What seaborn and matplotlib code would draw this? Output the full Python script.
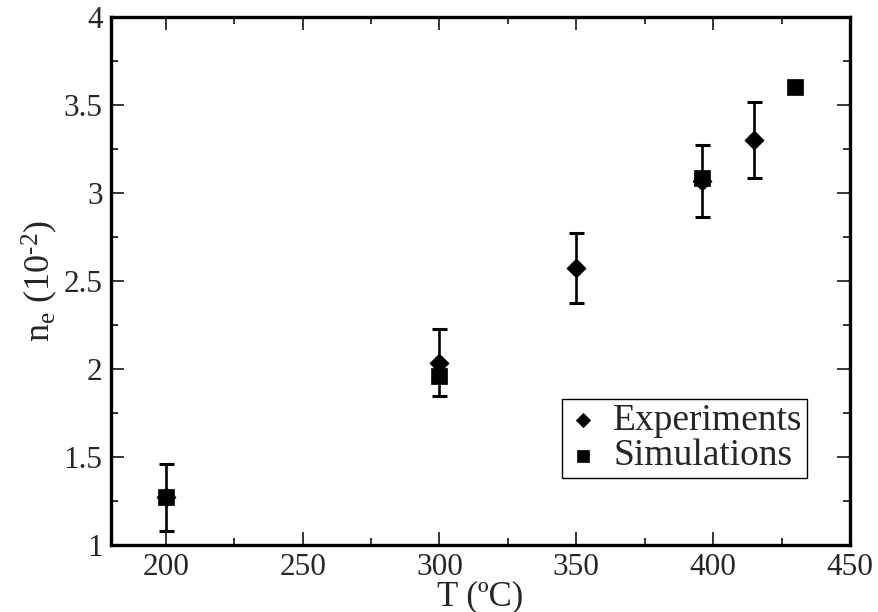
import matplotlib
matplotlib.use("Agg")
import matplotlib.pyplot as plt
from matplotlib.ticker import MultipleLocator, FuncFormatter
import seaborn as sns
import pandas as pd

# Measured electron density vs temperature
exp_T = [200, 300, 350, 396, 415]
exp_ne = [1.27, 2.035, 2.575, 3.07, 3.30]
exp_err = [0.19, 0.19, 0.20, 0.205, 0.215]

# Simulated electron density
sim_T = [200, 300, 396, 430]
sim_ne = [1.275, 1.96, 3.085, 3.605]

series_names = ["Experiments", "Simulations"]

sns.set_theme(style="ticks")
plt.rcParams["font.family"] = ["Liberation Serif", "DejaVu Serif"]
plt.rcParams["mathtext.fontset"] = "custom"
plt.rcParams["mathtext.rm"] = "Liberation Serif"
plt.rcParams["mathtext.it"] = "Liberation Serif:italic"

df = pd.concat([
    pd.DataFrame({"T": exp_T, "ne": exp_ne, "kind": series_names[0]}),
    pd.DataFrame({"T": sim_T, "ne": sim_ne, "kind": series_names[1]}),
], ignore_index=True)

fig = plt.figure(figsize=(8.79, 6.12), dpi=100)
ax = fig.add_axes([0.1263, 0.1095, 0.8407, 0.8627])

# error bars for the experimental points
ax.errorbar(exp_T, exp_ne, yerr=exp_err, fmt="none", ecolor="black",
            elinewidth=1.9, capsize=5.4, capthick=2.2, zorder=2)

# experiments (diamonds) drawn first, simulations (squares) on top
sns.scatterplot(data=df[df.kind == series_names[0]], x="T", y="ne",
                marker="D", s=95, color="black", edgecolor="black",
                linewidth=0.5, ax=ax, zorder=3, label=series_names[0])
sns.scatterplot(data=df[df.kind == series_names[1]], x="T", y="ne",
                marker="s", s=130, color="black", edgecolor="black",
                linewidth=0.5, ax=ax, zorder=4, label=series_names[1])

ax.set_xlim(180, 450)
ax.set_ylim(1, 4)
ax.xaxis.set_major_locator(MultipleLocator(50))
ax.xaxis.set_minor_locator(MultipleLocator(25))
ax.yaxis.set_major_locator(MultipleLocator(0.5))
ax.yaxis.set_minor_locator(MultipleLocator(0.25))
ax.yaxis.set_major_formatter(FuncFormatter(lambda v, p: f"{v:g}"))

for s in ax.spines.values():
    s.set_linewidth(2.4)
    s.set_color("black")
    s.set_visible(True)

ax.tick_params(which="both", direction="in", top=True, right=True,
               color="black", width=1.1, labelsize=22.5, pad=6)
ax.tick_params(which="major", length=9.5)
ax.tick_params(which="minor", length=5)

ax.set_xlabel("T (ºC)", fontsize=25, labelpad=-1.5)
ax.set_ylabel("n$_\\mathregular{e}$ (10$^\\mathregular{\u20102}$)", fontsize=26, labelpad=3)

leg = ax.legend(loc="lower right", bbox_to_anchor=(0.942, 0.127),
                borderaxespad=0, fontsize=27, frameon=True, fancybox=False,
                markerscale=0.75, handletextpad=0.35, borderpad=0.12,
                labelspacing=0.02, handlelength=0.9)
leg.get_frame().set_edgecolor("black")
leg.get_frame().set_linewidth(1.0)
leg.get_frame().set_alpha(1)

fig.savefig("out.png", dpi=100)
